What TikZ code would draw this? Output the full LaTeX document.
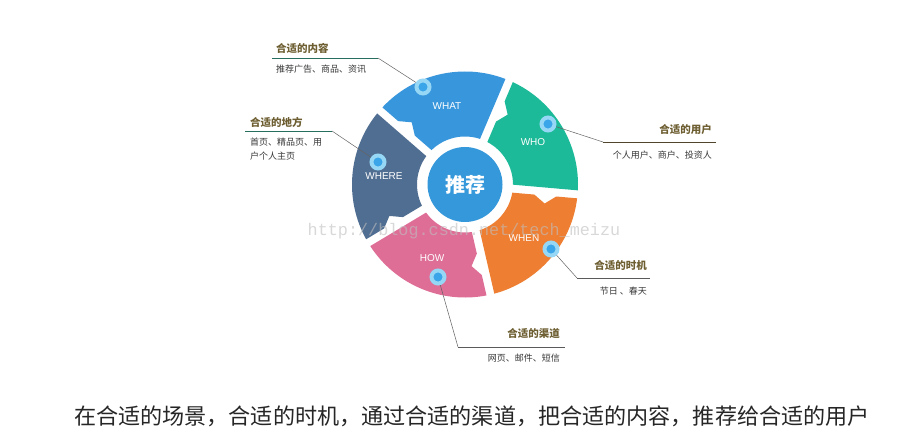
\documentclass[tikz,border=0pt]{standalone}
\usepackage{fontspec}
\usepackage{xcolor}
\usetikzlibrary{calc}
\newfontfamily\cjk{Noto Sans CJK SC}
\newfontfamily\latinsans{Liberation Sans}
\newfontfamily\wmfont{Liberation Mono}
\definecolor{segwhat}{RGB}{56,150,220}
\definecolor{segwho}{RGB}{28,186,152}
\definecolor{segwhere}{RGB}{80,110,145}
\definecolor{seghow}{RGB}{222,110,150}
\definecolor{segwhen}{RGB}{238,126,50}
\definecolor{segcore}{RGB}{52,152,218}
\definecolor{dotcore}{RGB}{58,165,232}
\definecolor{dothalo}{RGB}{150,215,245}
\definecolor{titlecol}{RGB}{110,95,50}
\definecolor{detailcol}{RGB}{55,55,55}
\definecolor{leadcol}{RGB}{100,100,100}
\definecolor{shelfteal}{RGB}{40,110,95}
\definecolor{shelfolive}{RGB}{80,70,45}
\definecolor{shelfgray}{RGB}{90,90,90}

\begin{document}
\begin{tikzpicture}[x=1pt, y=1pt,
    dot/.style={circle, fill=dotcore, draw=dothalo, line width=4pt, minimum size=13pt, inner sep=0pt, outer sep=2pt},
    seglabel/.style={text=white, font=\latinsans\fontsize{10}{12}\selectfont},
    title/.style={text=titlecol, font=\cjk\bfseries\fontsize{10.5}{12}\selectfont, inner sep=0pt},
    detail/.style={text=detailcol, font=\cjk\fontsize{9}{14}\selectfont, inner sep=0pt},
    leader/.style={draw=leadcol, line width=0.5pt},
    shelf/.style={line width=0.9pt}]
  \useasboundingbox[fill=white] (-465,-256.5) rectangle (444,184.5);
  % ring: 5 segments of 72 deg, notch on the leading edge
  \def\rin{48}
  \def\rout{113}
  \def\gap{4}
  \pgfmathsetmacro\go{asin(\gap/\rout)}
  \pgfmathsetmacro\gi{asin(\gap/\rin)}
  \foreach \a/\col in {-5/segwho, 67/segwhat, 139/segwhere, 211/seghow, 283/segwhen}{
    \pgfmathsetmacro\b{\a+72}
    \fill[\col] (\a+\go:\rout) arc[start angle=\a+\go, end angle=\b-\go, radius=\rout]
      -- ($(\b:92)+(\b-90:\gap)$) -- ($(\b:81)+(\b-90:\gap+8)$) -- ($(\b:70)+(\b-90:\gap)$)
      -- (\b-\gi:\rin) arc[start angle=\b-\gi, end angle=\a+\gi, radius=\rin] -- cycle;
  }
  \node[circle, fill=segcore, minimum size=75pt, inner sep=0pt, text=white,
        font=\cjk\bfseries\fontsize{20}{22}\selectfont] (core) at (0,0) {推荐};

  \node[seglabel] (lwhat) at (-18,78.5) {WHAT};
  \node[seglabel] (lwho) at (68,42.5) {WHO};
  \node[seglabel] (lwhere) at (-81,8.5) {WHERE};
  \node[seglabel] (lwhen) at (59,-53.5) {WHEN};
  \node[seglabel] (lhow) at (-33,-73.5) {HOW};

  % callouts
  \node[dot] (dwhat) at (-42,97.5) {};
  \coordinate (kwhat) at (-87,126.5);
  \coordinate (ewhat) at (-193,126.5);
  \draw[leader] (dwhat) -- (kwhat);
  \draw[shelf, draw=shelfteal] (kwhat) -- (ewhat);
  \node[title, anchor=west] (twhat) at (-189,136.5) {合适的内容};
  \node[detail, anchor=west] (swhat) at (-189,115.5) {推荐广告、商品、资讯};

  \node[dot] (dwhere) at (-87,22.5) {};
  \coordinate (kwhere) at (-133,53.5);
  \coordinate (ewhere) at (-220,53.5);
  \draw[leader] (dwhere) -- (kwhere);
  \draw[shelf, draw=shelfteal] (kwhere) -- (ewhere);
  \node[title, anchor=west] (twhere) at (-215,62.5) {合适的地方};
  \node[detail, anchor=west, align=left] (swhere) at (-215,35.5) {首页、精品页、用\\户个人主页};

  \node[dot] (dwho) at (83,60.5) {};
  \coordinate (kwho) at (138,42.5);
  \coordinate (ewho) at (251,42.5);
  \draw[leader] (dwho) -- (kwho);
  \draw[shelf, draw=shelfolive] (kwho) -- (ewho);
  \node[title, anchor=east] (twho) at (247,54.5) {合适的用户};
  \node[detail, anchor=east] (swho) at (247,29.5) {个人用户、商户、投资人};

  \node[dot] (dwhen) at (86,-64.5) {};
  \coordinate (kwhen) at (112,-93.5);
  \coordinate (ewhen) at (185,-93.5);
  \draw[leader] (dwhen) -- (kwhen);
  \draw[shelf, draw=shelfgray] (kwhen) -- (ewhen);
  \node[title, anchor=east] (twhen) at (182,-80.5) {合适的时机};
  \node[detail, anchor=east] (swhen) at (182,-106.5) {节日 、春天};

  \node[dot] (dhow) at (-27,-92.5) {};
  \coordinate (khow) at (-7,-162.5);
  \coordinate (ehow) at (100,-162.5);
  \draw[leader] (dhow) -- (khow);
  \draw[shelf, draw=shelfgray] (khow) -- (ehow);
  \node[title, anchor=east] (thow) at (95,-149.5) {合适的渠道};
  \node[detail, anchor=east] (show) at (95,-173.5) {网页、邮件、短信};

  \node[text=black!25, opacity=0.6, font=\wmfont\fontsize{16.8}{18}\selectfont] (mark) at (-1,-46.5) {http://blog.csdn.net/tech\_meizu};

  \node[text=black!85, font=\cjk\fontsize{22.1}{24}\selectfont] (motto) at (7,-231.5)
    {在合适的场景，合适的时机，通过合适的渠道，把合适的内容，推荐给合适的用户};
\end{tikzpicture}
\end{document}
